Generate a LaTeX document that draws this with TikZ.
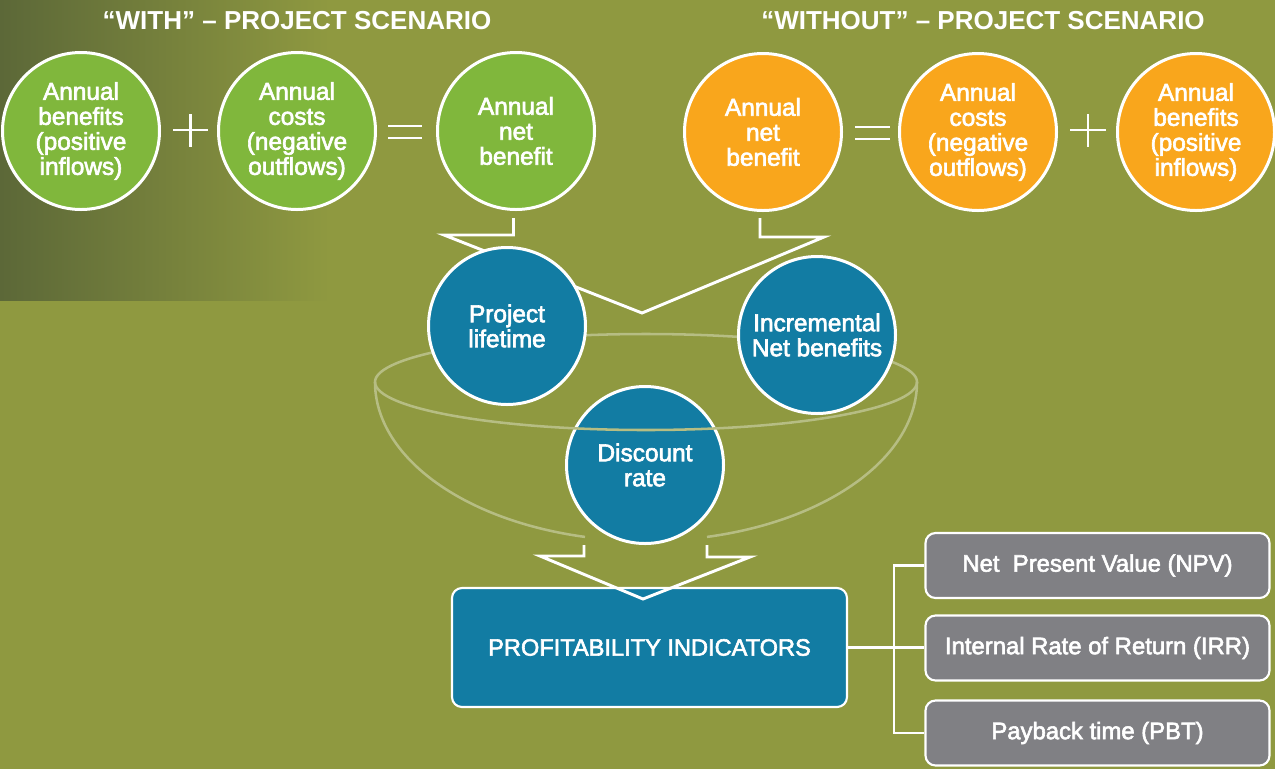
\documentclass[tikz,border=0pt]{standalone}
\usepackage{fontspec}
\setmainfont{Liberation Sans}
\newfontfamily\medfont{Liberation Sans}[FakeBold=2.5]
\definecolor{bg}{RGB}{143,153,64}
\definecolor{bgdark}{RGB}{92,104,56}
\definecolor{cgreen}{RGB}{128,183,60}
\definecolor{corange}{RGB}{249,166,28}
\definecolor{cblue}{RGB}{18,124,163}
\definecolor{cgray}{RGB}{128,128,132}
\definecolor{bowlc}{RGB}{182,189,131}
\begin{document}
\begin{tikzpicture}[x=0.75pt,y=-0.75pt,
  ttl/.style={text=white,font=\bfseries\fontsize{19.5pt}{22pt}\selectfont,inner sep=0},
  circ/.style={circle,draw=white,line width=2.25pt,minimum size=157*0.75pt,inner sep=0,
    text=white,align=center,font=\medfont\fontsize{18.3pt}{18.75pt}\selectfont},
  gc/.style={circ,fill=cgreen},
  oc/.style={circ,fill=corange},
  bc/.style={circ,fill=cblue},
  sym/.style={draw=white,line width=1.8pt},
  arr/.style={draw=white,line width=2.2pt,line join=miter},
  bowl/.style={draw=bowlc,line width=1.9pt},
  pbox/.style={rectangle,rounded corners=7.5pt,draw=white,line width=1.6pt,fill=cblue,
    minimum width=395*0.75pt,minimum height=119*0.75pt,text=white,
    font=\medfont\fontsize{17.7pt}{18.75pt}\selectfont},
  gbox/.style={rectangle,rounded corners=7.5pt,draw=white,line width=1.6pt,fill=cgray,
    minimum width=344*0.75pt,minimum height=65*0.75pt,text=white,
    font=\medfont\fontsize{17.9pt}{18.75pt}\selectfont},
  conn/.style={draw=white,line width=1.8pt}]
\useasboundingbox (0,0) rectangle (1275,769);
\fill[bg] (0,0) rectangle (1275,769);
\shade[left color=bgdark,right color=bg] (0,0) rectangle (330,300);
% titles
\node[ttl] (t1) at (297,21) {“WITH” – PROJECT SCENARIO};
\node[ttl] (t2) at (983,21) {“WITHOUT” – PROJECT SCENARIO};
% with-project circles
\node[gc] (g1) at (81,131) {Annual\\benefits\\(positive\\inflows)};
\node[gc] (g2) at (297,131) {Annual\\costs\\(negative\\outflows)};
\node[gc] (g3) at (516,131) {Annual\\net\\benefit};
\draw[sym] (173,130) -- (208,130) (190.5,114) -- (190.5,147);
\draw[sym] (388,126) -- (422,126) (388,138) -- (422,138);
% without-project circles
\node[oc] (o1) at (763,132) {Annual\\net\\benefit};
\node[oc] (o2) at (978,132) {Annual\\costs\\(negative\\outflows)};
\node[oc] (o3) at (1196,132) {Annual\\benefits\\(positive\\inflows)};
\draw[sym] (855,127) -- (890,127) (855,139) -- (890,139);
\draw[sym] (1070,130) -- (1106,130) (1088,114) -- (1088,147);
% upper arrow
\coordinate (a1) at (513.5,218);
\coordinate (a2) at (513.5,235);
\coordinate (a3) at (444,235);
\coordinate (a4) at (642,313);
\coordinate (a5) at (824,237);
\coordinate (a6) at (760,237);
\coordinate (a7) at (760,218);
\draw[arr] (a1) -- (a2) -- (a3) -- (a4) -- (a5) -- (a6) -- (a7);
% discount rate + bowl
\node[bc] (b3) at (645,465) {Discount\\rate};
\coordinate (bc0) at (646,382);
\draw[bowl] (bc0) ellipse[x radius=271,y radius=48];
\draw[bowl] (375,382) arc[start angle=180,end angle=103,x radius=271,y radius=159];
\draw[bowl] (917,382) arc[start angle=0,end angle=77,x radius=271,y radius=159];
\node[bc] (b1) at (507,326) {Project\\lifetime};
\node[bc] (b2) at (817,335) {Incremental\\Net benefits};
% profitability box
\node[pbox] (pi) at (649.5,647.5) {PROFITABILITY INDICATORS};
% lower arrow
\coordinate (c1) at (584,545);
\coordinate (c2) at (584,556);
\coordinate (c3) at (540,556);
\coordinate (c4) at (643,599);
\coordinate (c5) at (750,557);
\coordinate (c6) at (707,557);
\coordinate (c7) at (707,545);
\draw[arr] (c1) -- (c2) -- (c3) -- (c4) -- (c5) -- (c6) -- (c7);
% indicator boxes
\node[gbox] (n1) at (1097.5,565.5) {Net\ \ Present Value (NPV)};
\node[gbox] (n2) at (1097.5,648) {Internal Rate of Return (IRR)};
\node[gbox] (n3) at (1097.5,733) {Payback time (PBT)};
\coordinate (j) at (894,648);
\draw[conn] (pi.east) -- (pi.east -| n2.west);
\draw[conn] (n1.west) -| (j);
\draw[conn] (n3.west) -| (j);
\end{tikzpicture}
\end{document}
